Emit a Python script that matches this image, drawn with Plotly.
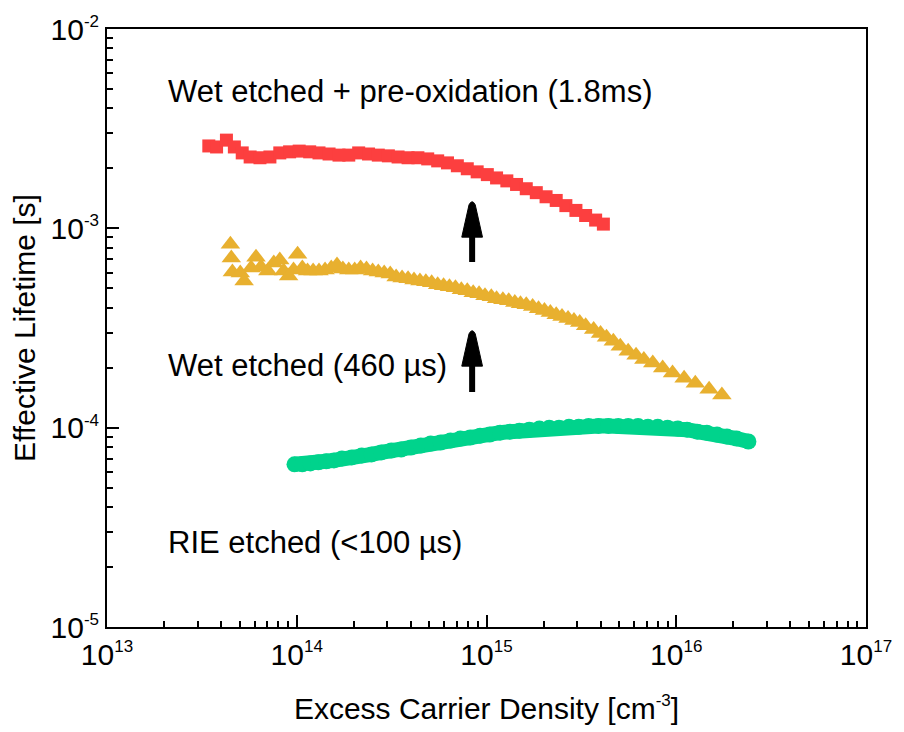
import numpy as np
import plotly.graph_objects as go

# ---- Wet etched + pre-oxidation (red squares) ----
density_oxid = [3.44e13, 3.78e13, 4.26e13, 4.69e13, 5.16e13, 5.68e13, 6.40e13, 7.22e13,
                8.14e13, 9.17e13, 1.03e14, 1.17e14, 1.31e14, 1.48e14, 1.67e14, 1.88e14,
                2.12e14, 2.39e14, 2.69e14, 3.04e14, 3.42e14, 3.86e14, 4.35e14, 4.90e14,
                5.53e14, 6.23e14, 7.02e14, 7.92e14, 8.93e14, 1.01e15, 1.13e15, 1.28e15,
                1.44e15, 1.62e15, 1.83e15, 2.06e15, 2.33e15, 2.62e15, 2.96e15, 3.33e15,
                3.76e15, 4.13e15]
lifetime_oxid = [2.59e-3, 2.56e-3, 2.77e-3, 2.56e-3, 2.39e-3, 2.28e-3, 2.26e-3, 2.28e-3,
                 2.39e-3, 2.42e-3, 2.44e-3, 2.42e-3, 2.39e-3, 2.36e-3, 2.33e-3, 2.33e-3,
                 2.39e-3, 2.36e-3, 2.33e-3, 2.31e-3, 2.28e-3, 2.26e-3, 2.26e-3, 2.23e-3,
                 2.18e-3, 2.13e-3, 2.06e-3, 1.99e-3, 1.92e-3, 1.86e-3, 1.79e-3, 1.73e-3,
                 1.66e-3, 1.58e-3, 1.51e-3, 1.44e-3, 1.38e-3, 1.30e-3, 1.23e-3, 1.16e-3,
                 1.10e-3, 1.05e-3]

# ---- Wet etched (yellow triangles) ----
density_wet = [4.47e13, 4.52e13, 4.58e13, 5.04e13, 5.28e13, 5.75e13, 6.10e13, 6.48e13,
               7.04e13, 7.57e13, 8.14e13, 8.53e13, 9.06e13, 9.62e13, 1.01e14, 1.07e14,
               1.14e14, 1.22e14, 1.31e14, 1.41e14, 1.52e14, 1.63e14, 1.75e14, 1.88e14,
               2.02e14, 2.17e14, 2.33e14, 2.51e14, 2.69e14, 2.89e14, 3.11e14, 3.34e14,
               3.59e14, 3.86e14, 4.15e14, 4.46e14, 4.79e14, 5.14e14, 5.53e14, 5.94e14,
               6.38e14, 6.86e14, 7.37e14, 7.92e14, 8.51e14, 9.14e14, 9.82e14, 1.06e15,
               1.13e15, 1.22e15, 1.31e15, 1.41e15, 1.51e15, 1.62e15, 1.75e15, 1.88e15,
               2.02e15, 2.17e15, 2.33e15, 2.50e15, 2.69e15, 2.89e15, 3.10e15, 3.33e15,
               3.67e15, 3.99e15, 4.29e15, 4.66e15, 5.07e15, 5.58e15, 6.14e15, 6.75e15,
               7.52e15, 8.48e15, 9.56e15, 1.10e16, 1.26e16, 1.49e16, 1.74e16]
lifetime_wet = [8.33e-4, 7.09e-4, 6.04e-4, 5.97e-4, 5.45e-4, 6.32e-4, 7.17e-4, 6.40e-4,
                6.11e-4, 6.70e-4, 6.93e-4, 6.11e-4, 5.77e-4, 6.18e-4, 7.42e-4, 6.32e-4,
                6.11e-4, 6.11e-4, 6.11e-4, 6.18e-4, 6.32e-4, 6.55e-4, 6.25e-4, 6.18e-4,
                6.18e-4, 6.32e-4, 6.25e-4, 6.11e-4, 6.04e-4, 5.97e-4, 5.90e-4, 5.70e-4,
                5.64e-4, 5.58e-4, 5.51e-4, 5.45e-4, 5.39e-4, 5.33e-4, 5.21e-4, 5.15e-4,
                5.09e-4, 5.03e-4, 4.92e-4, 4.86e-4, 4.75e-4, 4.70e-4, 4.59e-4, 4.54e-4,
                4.43e-4, 4.38e-4, 4.33e-4, 4.24e-4, 4.19e-4, 4.14e-4, 4.05e-4, 3.95e-4,
                3.87e-4, 3.78e-4, 3.69e-4, 3.61e-4, 3.53e-4, 3.45e-4, 3.37e-4, 3.25e-4,
                3.11e-4, 2.97e-4, 2.84e-4, 2.71e-4, 2.56e-4, 2.42e-4, 2.31e-4, 2.20e-4,
                2.11e-4, 1.99e-4, 1.88e-4, 1.77e-4, 1.67e-4, 1.56e-4, 1.46e-4]

# ---- RIE etched (green circles) ----
density_rie = [9.73e13, 1.07e14, 1.18e14, 1.30e14, 1.43e14, 1.57e14, 1.73e14, 1.95e14,
               2.20e14, 2.48e14, 2.79e14, 3.15e14, 3.55e14, 4.00e14, 4.51e14, 5.08e14,
               5.73e14, 6.46e14, 7.28e14, 8.21e14, 9.25e14, 1.04e15, 1.18e15, 1.33e15,
               1.49e15, 1.68e15, 1.90e15, 2.14e15, 2.41e15, 2.72e15, 3.06e15, 3.45e15,
               3.89e15, 4.39e15, 4.95e15, 5.58e15, 6.29e15, 7.09e15, 7.99e15, 9.00e15,
               1.02e16, 1.14e16, 1.29e16, 1.45e16, 1.64e16, 1.85e16, 2.08e16, 2.40e16]
lifetime_rie = [6.55e-5, 6.55e-5, 6.62e-5, 6.70e-5, 6.78e-5, 6.85e-5, 7.01e-5, 7.09e-5,
                7.26e-5, 7.34e-5, 7.51e-5, 7.68e-5, 7.77e-5, 7.95e-5, 8.14e-5, 8.33e-5,
                8.42e-5, 8.62e-5, 8.82e-5, 8.92e-5, 9.12e-5, 9.23e-5, 9.44e-5, 9.55e-5,
                9.66e-5, 9.77e-5, 9.89e-5, 1.00e-4, 1.00e-4, 1.01e-4, 1.01e-4, 1.02e-4,
                1.02e-4, 1.02e-4, 1.02e-4, 1.02e-4, 1.02e-4, 1.01e-4, 1.01e-4, 1.00e-4,
                9.89e-5, 9.77e-5, 9.55e-5, 9.44e-5, 9.23e-5, 9.02e-5, 8.82e-5, 8.52e-5]

x_tick_exp = [13, 14, 15, 16, 17]
y_tick_exp = [-5, -4, -3, -2]

FONT = "Liberation Sans, Arial, sans-serif"
TEXT_SIZE = 30
RED = "#FC3F3F"
YELLOW = "#E8B02F"
GREEN = "#00D38C"

X_LOG_RANGE = (13, 17)
Y_LOG_RANGE = (-5, -2)
PLOT_W, PLOT_H = 769, 603


def paper_x(v):
    return (np.log10(v) - X_LOG_RANGE[0]) / (X_LOG_RANGE[1] - X_LOG_RANGE[0])


def paper_y(v):
    return (np.log10(v) - Y_LOG_RANGE[0]) / (Y_LOG_RANGE[1] - Y_LOG_RANGE[0])


def power_label(e):
    return f"10<sup><span style='font-size:17px'>{e}</span></sup>"


fig = go.Figure()

fig.add_trace(go.Scatter(
    x=density_oxid, y=lifetime_oxid, mode="markers",
    marker=dict(symbol="square", size=13, color=RED, line=dict(width=0)),
    showlegend=False))

fig.add_trace(go.Scatter(
    x=density_wet, y=lifetime_wet, mode="markers",
    marker=dict(symbol="triangle-up", size=17, color=YELLOW, line=dict(width=0)),
    showlegend=False))

fig.add_trace(go.Scatter(
    x=density_rie, y=lifetime_rie, mode="lines+markers",
    line=dict(color=GREEN, width=15),
    marker=dict(symbol="circle", size=16, color=GREEN, line=dict(width=0)),
    showlegend=False))

# upward arrows marking the lifetime improvement between treatments
arrow_x = 8.4e14
arrows = [(6.78e-4, 1.38e-3), (1.51e-4, 3.11e-4)]  # (tail, tip) lifetimes
head_len = 37 / PLOT_H
head_hw = 10.5 / PLOT_W
shapes = []
for tail, tip in arrows:
    xc = paper_x(arrow_x)
    yt = paper_y(tip)
    yb = yt - head_len
    shapes.append(dict(type="line", xref="paper", yref="paper",
                       x0=xc, x1=xc, y0=paper_y(tail), y1=yb + 0.004,
                       line=dict(color="black", width=6)))
    path = (f"M {xc - head_hw},{yb} "
            f"L {xc - 0.3 * head_hw},{yt - 0.12 * head_len} "
            f"Q {xc},{yt + 0.05 * head_len} {xc + 0.3 * head_hw},{yt - 0.12 * head_len} "
            f"L {xc + head_hw},{yb} Z")
    shapes.append(dict(type="path", xref="paper", yref="paper", path=path,
                       fillcolor="black", line=dict(color="black", width=1)))

labels = [
    ("Wet etched + pre-oxidation (1.8ms)", 0.8955),
    ("Wet etched (460 µs)", 0.4378),
    ("RIE etched (<100 µs)", 0.141),
]
annotations = [
    dict(text=t, xref="paper", yref="paper", x=60 / PLOT_W, y=y,
         xanchor="left", yanchor="middle", showarrow=False,
         font=dict(family=FONT, size=31, color="black"))
    for t, y in labels
]

minor_x = [m * 10.0 ** e for e in range(13, 17) for m in range(2, 10)]
minor_y = [m * 10.0 ** e for e in range(-5, -2) for m in range(2, 10)]

axis_common = dict(
    type="log", showgrid=False, zeroline=False,
    showline=True, linecolor="black", linewidth=2, mirror=True,
    ticks="inside", ticklen=12, tickwidth=2, tickcolor="black",
    tickmode="array",
    tickfont=dict(family=FONT, size=TEXT_SIZE, color="black"),
)

fig.update_layout(
    width=904, height=732,
    margin=dict(l=107, r=28, t=27, b=102),
    paper_bgcolor="white", plot_bgcolor="white",
    xaxis=dict(
        **axis_common,
        range=list(X_LOG_RANGE),
        tickvals=[10.0 ** e for e in x_tick_exp],
        ticktext=[power_label(e) for e in x_tick_exp],
        minor=dict(tickmode="array", tickvals=minor_x, ticks="inside",
                   ticklen=6, tickwidth=2, tickcolor="black", showgrid=False),
        title=dict(text="Excess Carrier Density [cm<sup><span style='font-size:17px'>-3</span></sup>]",
                   font=dict(family=FONT, size=TEXT_SIZE, color="black"), standoff=28),
    ),
    yaxis=dict(
        **axis_common,
        range=list(Y_LOG_RANGE),
        tickvals=[10.0 ** e for e in y_tick_exp],
        ticktext=[power_label(e) for e in y_tick_exp],
        minor=dict(tickmode="array", tickvals=minor_y, ticks="inside",
                   ticklen=6, tickwidth=2, tickcolor="black", showgrid=False),
        title=dict(text="Effective Lifetime [s]",
                   font=dict(family=FONT, size=TEXT_SIZE, color="black"), standoff=6),
    ),
    shapes=shapes,
    annotations=annotations,
)

fig.write_html("out.html")
